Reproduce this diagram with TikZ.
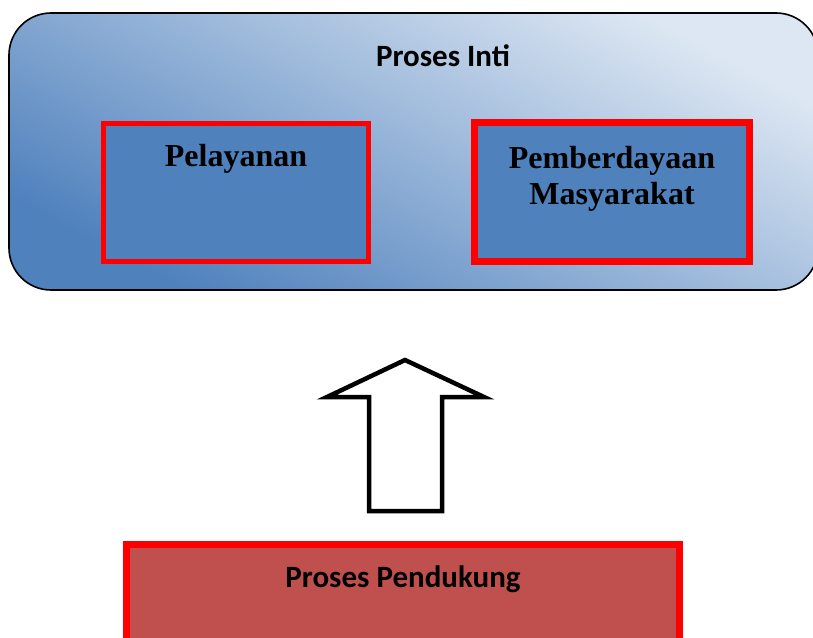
\documentclass[tikz,border=0pt]{standalone}
\usepackage{fontspec}
\setmainfont{Liberation Serif}
\newfontfamily\calibri{Carlito}
\usetikzlibrary{positioning}
\definecolor{darkblue}{HTML}{4F81BD}
\definecolor{lightblue}{HTML}{DDE7F3}
\definecolor{boxred}{HTML}{C0504D}
\definecolor{brightred}{HTML}{FF0000}

\begin{document}
\begin{tikzpicture}[x=1pt,y=-1pt,
  outerbox/.style={draw=black, line width=1.6pt, rounded corners=42pt, top color=lightblue, bottom color=darkblue, shading angle=-28, inner sep=0pt},
  bluebox/.style={draw=brightred, fill=darkblue, inner sep=0pt},
  redbox/.style={draw=brightred, line width=7pt, fill=boxred, inner sep=0pt},
  serifbold/.style={font=\fontsize{32}{36}\selectfont\bfseries, inner sep=0pt, align=center},
  sansbold/.style={font=\calibri\fontsize{31}{36}\selectfont\bfseries, inner sep=0pt}]
  \useasboundingbox (0,0) rectangle (813,637);
  \node[outerbox, minimum width=809pt, minimum height=277pt] (inti) at (413.5,151.5) {};
  \node[sansbold, anchor=base] (intititle) at (443,66) {Proses Inti};

  \node[bluebox, line width=5pt, minimum width=265pt, minimum height=138pt] (pelayanan) at (236,192.5) {};
  \node[serifbold, anchor=base] (pelayanantext) at (236,166) {Pelayanan};
  \node[bluebox, line width=7pt, minimum width=275pt, minimum height=139pt] (pemberdayaan) at (612,192) {};
  \node[serifbold] (pemberdayaantext) at (612,179) {Pemberdayaan\\Masyarakat};

  % block arrow
  \draw[line width=4.5pt, fill=white, miter limit=10]
    (405,360) -- (484,397) -- (442,397) -- (442,511) -- (369,511) -- (369,397) -- (327,397) -- cycle;

  \node[redbox, minimum width=553pt, minimum height=105pt] (pendukung) at (403,597) {};
  \node[sansbold, anchor=base] (pendukungtext) at (403,587) {Proses Pendukung};
\end{tikzpicture}
\end{document}
